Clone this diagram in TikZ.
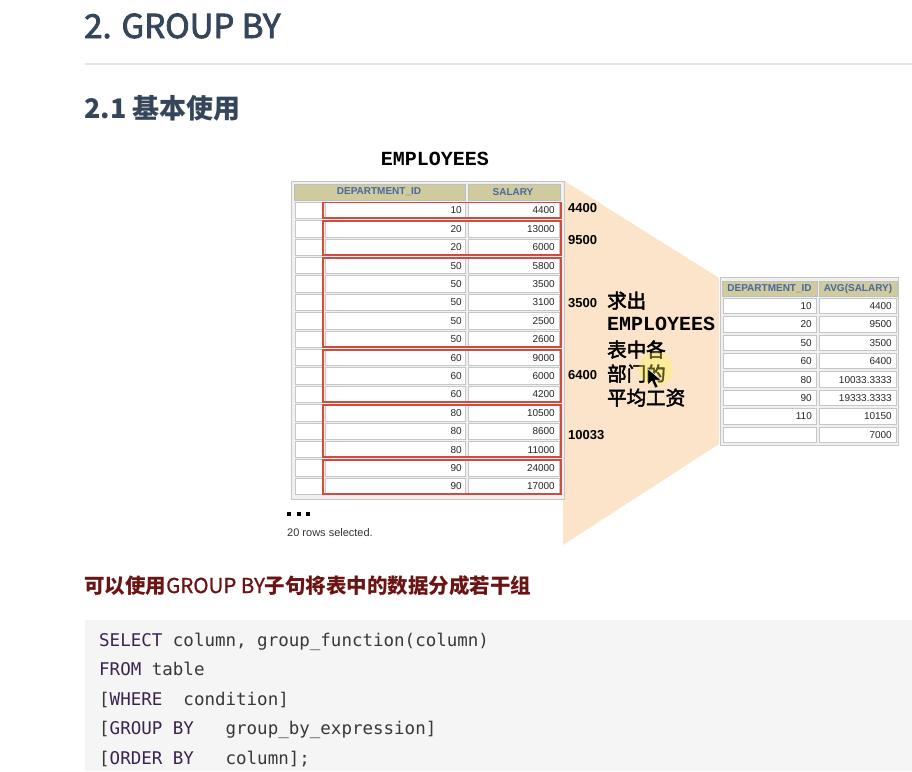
\documentclass[tikz,border=0pt]{standalone}
\usepackage{fontspec}
\setmainfont{Liberation Sans}
\newfontfamily\cjk{Noto Sans CJK SC}
\newfontfamily\cjkmed[FakeBold=2.5]{Noto Sans CJK SC}
\newfontfamily\cjklight[FakeBold=1]{Noto Sans CJK SC}
\newfontfamily\courier{Liberation Mono}
\newfontfamily\codefont{DejaVu Sans Mono}
\usetikzlibrary{positioning}
\definecolor{heading}{HTML}{35465A}
\definecolor{maroon}{HTML}{6B1414}
\definecolor{keyword}{HTML}{3B2350}
\definecolor{codetext}{HTML}{383838}
\definecolor{codebg}{HTML}{F5F5F5}
\definecolor{tblhead}{HTML}{CFCB9D}
\definecolor{headtext}{HTML}{4A67A1}
\definecolor{groupred}{HTML}{D24B3E}
\definecolor{peach}{HTML}{FBE4C9}

\begin{document}
\begin{tikzpicture}[x=1pt,y=-1pt,
    cell/.style={fill=white,draw=gray!45,line width=0.6pt},
    hcell/.style={fill=tblhead,draw=gray!50,line width=0.6pt},
    htext/.style={font=\fontsize{10}{12}\selectfont\bfseries,text=headtext,inner sep=0pt},
    num/.style={font=\fontsize{10}{12}\selectfont,text=black!85,inner sep=0pt,anchor=east},
    avg/.style={font=\fontsize{13}{15}\selectfont\bfseries,inner sep=0pt,anchor=west},
    group/.style={draw=groupred,line width=1.8pt},
    line/.style={font=\cjkmed\fontsize{19.5}{24}\selectfont,inner sep=0pt,anchor=base west},
    slab/.style={font=\courier\bfseries\fontsize{20}{22}\selectfont,inner sep=0pt},
    codeline/.style={font=\codefont\fontsize{17.5}{20}\selectfont,text=codetext,inner sep=0pt,anchor=base west}]
  \useasboundingbox (0,0) rectangle (912,771);

  % page headings
  \node[anchor=base west,inner sep=0pt,text=heading,font=\cjkmed\fontsize{33}{40}\selectfont] (title) at (84,38) {2. GROUP BY};
  \draw[gray!20,line width=1.5pt] (85,64) -- (912,64);
  \node[anchor=base west,inner sep=0pt,text=heading,font=\cjk\bfseries\fontsize{27}{30}\selectfont] (sub) at (84,118) {2.1 基本使用};

  % wedge behind the result
  \fill[peach] (563,180) -- (719,278) -- (719,444) -- (563,545) -- cycle;

  % EMPLOYEES table
  \node[slab] (emp) at (435,159) {EMPLOYEES};
  \filldraw[fill=gray!12,draw=gray!45] (291,181) rectangle (564,499);
  \draw[hcell] (294,184) rectangle (465,200);
  \draw[hcell] (468,184) rectangle (560,200);
  \node[htext] (hdept) at (379,192) {DEPARTMENT\_ID};
  \node[htext] (hsal) at (513,192) {SALARY};
  \foreach \d/\s [count=\i] in {10/4400,20/13000,20/6000,50/5800,50/3500,50/3100,50/2500,50/2600,
      60/9000,60/6000,60/4200,80/10500,80/8600,80/11000,90/24000,90/17000} {
    \pgfmathsetmacro\ry{202+(\i-1)*18.4}
    \draw[cell] (295,\ry) rectangle (322,\ry+16.5);
    \draw[cell] (325,\ry) rectangle (465,\ry+16.5);
    \draw[cell] (468,\ry) rectangle (559,\ry+16.5);
    \node[num] (ld\i) at (462,\ry+8.5) {\d};
    \node[num] (ls\i) at (555,\ry+8.5) {\s};
  }
  \foreach \a/\b in {1/1,2/3,4/8,9/11,12/14,15/16} {
    \pgfmathsetmacro\gtop{202+(\a-1)*18.4+0.5}
    \pgfmathsetmacro\gbot{202+(\b-1)*18.4+16}
    \draw[group] (323,\gtop) rectangle (561,\gbot);
  }

  \foreach \x in {287,297,306}
    \fill (\x,512) rectangle (\x+4,516);
  \node[anchor=west,inner sep=0pt,text=black!80,font=\fontsize{11}{13}\selectfont] (rows) at (287,533) {20 rows selected.};

  % group averages
  \node[avg] (a1) at (568,208) {4400};
  \node[avg] (a2) at (568,240) {9500};
  \node[avg] (a3) at (568,303) {3500};
  \node[avg] (a4) at (568,375) {6400};
  \node[avg] (a5) at (568,435) {10033};

  % caption in the wedge
  \node[line] (c1) at (607,308) {求出};
  \node[slab,anchor=base west] (c2) at (607,330) {EMPLOYEES};
  \node[line] (c3) at (607,357) {表中各};
  \node[line] (c4) at (607,381) {部门的};
  \node[line] (c5) at (607,405) {平均工资};
  \fill[yellow!70,opacity=0.35] (656,369) circle (17);
  \filldraw[fill=black,draw=white,line width=0.4pt] (648,369) -- (648,385) -- (652,381) -- (655,388) -- (658,387) -- (655,380) -- (661,380) -- cycle;

  % result table
  \filldraw[fill=gray!12,draw=gray!45] (720,277) rectangle (898,445);
  \draw[hcell] (722,281) rectangle (817,296);
  \draw[hcell] (819,281) rectangle (897,296);
  \node[htext] (rdept) at (769.5,288.5) {DEPARTMENT\_ID};
  \node[htext] (ravg) at (858,288.5) {AVG(SALARY)};
  \foreach \d/\s [count=\j] in {10/4400,20/9500,50/3500,60/6400,80/10033.3333,90/19333.3333,110/10150,{}/7000} {
    \pgfmathsetmacro\ry{298+(\j-1)*18.4}
    \draw[cell] (723,\ry) rectangle (816,\ry+15.5);
    \draw[cell] (819,\ry) rectangle (896,\ry+15.5);
    \node[num] (rd\j) at (812,\ry+8) {\d};
    \node[num] (rs\j) at (892,\ry+8) {\s};
  }

  % statement and syntax
  \node[anchor=base west,inner sep=0pt,text=maroon,font=\cjk\fontsize{20.5}{24}\selectfont] (note) at (84,593)
    {{\bfseries 可以使用}{\cjklight GROUP BY}{\bfseries 子句将表中的数据分成若干组}};
  \fill[codebg] (85,620) rectangle (912,771);
  \node[codeline] (k1) at (99,646) {\textcolor{keyword}{SELECT} column, group\_function(column)};
  \node[codeline] (k2) at (99,675.5) {\textcolor{keyword}{FROM} table};
  \node[codeline] (k3) at (99,705) {[\textcolor{keyword}{WHERE}\hphantom{xx}condition]};
  \node[codeline] (k4) at (99,734.5) {[\textcolor{keyword}{GROUP BY}\hphantom{xxx}group\_by\_expression]};
  \node[codeline] (k5) at (99,764) {[\textcolor{keyword}{ORDER BY}\hphantom{xxx}column];};
\end{tikzpicture}
\end{document}
